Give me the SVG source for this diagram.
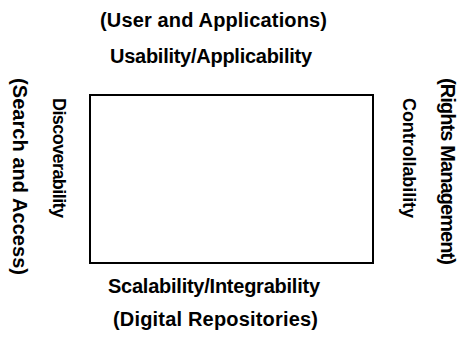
<svg xmlns="http://www.w3.org/2000/svg" width="462" height="347" viewBox="0 0 462 347">
<style>
.t{font-family:"Liberation Sans",Arial,sans-serif;font-weight:bold;font-size:20px;fill:#000;text-anchor:middle}
.s{font-size:18px}
.box{fill:#fff;stroke:#000;stroke-width:2}
</style>
<rect width="462" height="347" fill="#fff"/>
<g id="box"><rect class="box" x="90" y="95" width="283" height="168"/></g>
<g id="top">
<text class="t" x="213.5" y="27" textLength="227">(User and Applications)</text>
<text class="t" x="211" y="63" textLength="202">Usability/Applicability</text>
</g>
<g id="bottom">
<text class="t" x="214" y="293" textLength="212">Scalability/Integrability</text>
<text class="t" x="215.5" y="326" textLength="205">(Digital Repositories)</text>
</g>
<g id="left">
<text class="t" transform="translate(13,176.5) rotate(90)" textLength="197">(Search and Access)</text>
<text class="t s" transform="translate(53,158) rotate(90)" textLength="120">Discoverability</text>
</g>
<g id="right">
<text class="t" transform="translate(441,171.5) rotate(90)" textLength="187">(Rights Management)</text>
<text class="t s" transform="translate(403,158) rotate(90)" textLength="120">Controllability</text>
</g>
<g id="connectors"></g>
</svg>
